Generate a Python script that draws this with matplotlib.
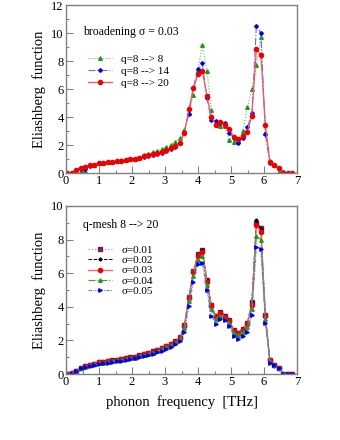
import numpy as np
import matplotlib
matplotlib.use("Agg")
import matplotlib.pyplot as plt
from matplotlib.ticker import MultipleLocator

plt.rcParams['font.family'] = ['Liberation Serif', 'DejaVu Serif']
plt.rcParams['mathtext.fontset'] = 'stix'

# frequency grid (THz), 51 points
freq = np.linspace(0.04, 6.86, 51)

# top panel: sigma = 0.03, different q-meshes
q8_8 = [0.0, 0.0, 0.0, 0.05, 0.12, 0.55, 0.6, 0.68, 0.72, 0.76,
        0.82, 0.86, 0.9, 0.95, 1.0, 1.0, 1.05, 1.32, 1.35, 1.5,
        1.6, 1.7, 1.85, 2.0, 2.2, 2.5, 3.1, 4.25, 5.6, 7.35,
        9.15, 7.3, 4.5, 3.5, 3.35, 3.35, 2.35, 2.2, 2.3, 3.0,
        4.68, 6.0, 7.68, 9.69, 2.85, 0.85, 0.6, 0.05, 0.0, 0.0, 0.0]
q8_14 = [0.0, 0.02, 0.22, 0.28, 0.3, 0.52, 0.6, 0.68, 0.72, 0.76,
         0.8, 0.84, 0.88, 0.93, 0.98, 1.02, 1.08, 1.15, 1.22, 1.28,
         1.36, 1.45, 1.58, 1.72, 1.88, 2.12, 2.95, 4.2, 6.1, 7.4,
         7.85, 5.35, 3.75, 3.72, 3.6, 3.58, 2.88, 2.48, 2.12, 2.5,
         3.25, 4.25, 10.5, 10.0, 2.75, 0.72, 0.55, 0.35, 0.05, 0.0, 0.0]
q8_20 = [0.0, 0.03, 0.2, 0.38, 0.45, 0.55, 0.6, 0.69, 0.71, 0.75,
         0.8, 0.85, 0.89, 0.94, 0.98, 1.02, 1.1, 1.18, 1.25, 1.33,
         1.42, 1.52, 1.64, 1.78, 1.93, 2.15, 2.85, 4.55, 6.05, 7.05,
         7.28, 5.5, 4.02, 3.42, 3.65, 3.42, 3.15, 2.58, 2.42, 2.62,
         2.95, 4.1, 8.85, 8.45, 3.45, 0.82, 0.55, 0.38, 0.02, 0.0, 0.0]

# bottom panel: q-mesh 8 --> 20, different sigma
s001 = [0.0, 0.03, 0.2, 0.38, 0.45, 0.56, 0.61, 0.7, 0.72, 0.76,
        0.81, 0.86, 0.9, 0.95, 0.99, 1.03, 1.11, 1.19, 1.26, 1.35,
        1.44, 1.54, 1.66, 1.8, 1.96, 2.2, 2.92, 4.6, 6.12, 7.12,
        7.36, 5.62, 4.1, 3.45, 3.72, 3.48, 3.22, 2.6, 2.45, 2.7,
        3.04, 4.3, 9.0, 8.72, 3.52, 0.83, 0.56, 0.38, 0.02, 0.0, 0.0]
s002 = [0.0, 0.03, 0.2, 0.38, 0.45, 0.56, 0.61, 0.7, 0.72, 0.76,
        0.81, 0.86, 0.9, 0.95, 0.99, 1.03, 1.11, 1.19, 1.26, 1.35,
        1.44, 1.54, 1.66, 1.8, 1.96, 2.18, 2.9, 4.6, 6.1, 7.1,
        7.38, 5.6, 4.08, 3.45, 3.72, 3.47, 3.2, 2.6, 2.45, 2.68,
        3.02, 4.28, 9.18, 8.65, 3.5, 0.83, 0.56, 0.38, 0.02, 0.0, 0.0]
s003 = q8_20
s004 = [0.0, 0.02, 0.17, 0.36, 0.43, 0.52, 0.57, 0.65, 0.68, 0.72,
        0.77, 0.81, 0.85, 0.9, 0.94, 0.98, 1.05, 1.13, 1.2, 1.27,
        1.36, 1.46, 1.58, 1.71, 1.86, 2.07, 2.72, 4.35, 5.85, 6.8,
        7.02, 5.3, 3.85, 3.25, 3.48, 3.3, 3.05, 2.45, 2.3, 2.5,
        2.8, 3.85, 8.22, 7.98, 3.25, 0.78, 0.53, 0.38, 0.02, 0.0, 0.0]
s005 = [0.0, 0.02, 0.15, 0.33, 0.4, 0.47, 0.52, 0.6, 0.63, 0.67,
        0.72, 0.76, 0.8, 0.85, 0.89, 0.93, 1.0, 1.07, 1.13, 1.2,
        1.29, 1.38, 1.5, 1.63, 1.78, 1.97, 2.52, 4.02, 5.5, 6.55,
        6.62, 4.98, 3.48, 2.98, 3.28, 3.22, 2.88, 2.28, 2.08, 2.28,
        2.48, 3.54, 7.58, 7.42, 3.02, 0.68, 0.54, 0.38, 0.02, 0.0, 0.0]

fig = plt.figure(figsize=(3.4, 4.4), dpi=100)
ax1 = fig.add_axes([66/340, 1-173/440, 231/340, 168/440])
ax2 = fig.add_axes([66/340, 1-374/440, 231/340, 168/440])

gray = '#808080'

def style(ax, ymax):
    ax.set_xlim(0, 7)
    ax.set_ylim(0, ymax)
    ax.xaxis.set_major_locator(MultipleLocator(1))
    ax.xaxis.set_minor_locator(MultipleLocator(0.5))
    ax.yaxis.set_major_locator(MultipleLocator(2))
    ax.yaxis.set_minor_locator(MultipleLocator(1))
    ax.tick_params(which='both', direction='in', color=gray, labelsize=9, pad=1.5)
    ax.tick_params(which='major', length=5, width=0.8)
    ax.tick_params(which='minor', length=2.5, width=0.8)
    for s in ax.spines.values():
        s.set_color(gray)
        s.set_linewidth(1.0)
    ax.set_ylabel('Eliashberg  function', fontsize=10.5, labelpad=4)

# top
ax1.plot(freq, q8_8, ls=':', color='#66bb66', lw=0.8, marker='^', ms=2.6,
         mfc='#1a9a1a', mec='#1a9a1a', label='q=8 --> 8')
ax1.plot(freq, q8_14, ls='-.', color='#6666ff', lw=0.8, marker='D', ms=1.9,
         mfc='#0000ee', mec='#0000ee', label='q=8 --> 14')
ax1.plot(freq, q8_20, ls='-', color='#ff5555', lw=0.9, marker='o', ms=3.0,
         mfc='#ee0000', mec='#ee0000', label='q=8 --> 20')
style(ax1, 12)
ax1.text(0.075, 0.84, 'broadening σ = 0.03', transform=ax1.transAxes,
         fontsize=8.5, va='center')
ax1.legend(loc='upper left', bbox_to_anchor=(0.095, 0.705), frameon=False,
           fontsize=8, handlelength=2.2, handletextpad=0.8, labelspacing=0.2,
           borderaxespad=0, borderpad=0)

# bottom
ax2.plot(freq, s001, ls=':', color='#dd88bb', lw=0.9, marker='s', ms=2.3,
         mfc='#7a1a5a', mec='#7a1a5a', label='σ=0.01')
ax2.plot(freq, s002, ls='--', color='black', lw=0.7, marker='D', ms=1.6,
         mfc='black', mec='black', label='σ=0.02')
ax2.plot(freq, s003, ls='-', color='#ff6666', lw=1.0, marker='o', ms=3.0,
         mfc='#ee0000', mec='#ee0000', label='σ=0.03')
ax2.plot(freq, s004, ls='-.', color='#33aa33', lw=0.8, marker='^', ms=2.5,
         mfc='#1a9a1a', mec='#1a9a1a', label='σ=0.04')
ax2.plot(freq, s005, ls=(0, (3, 1, 1, 1, 1, 1)), color='#6677ff', lw=0.8,
         marker='>', ms=2.5, mfc='#0000ee', mec='#0000ee', label='σ=0.05')
style(ax2, 10)
ax2.text(0.075, 0.887, 'q-mesh 8 --> 20', transform=ax2.transAxes,
         fontsize=8.5, va='center')
ax2.legend(loc='upper left', bbox_to_anchor=(0.095, 0.765), frameon=False,
           fontsize=8, handlelength=2.2, handletextpad=0.8, labelspacing=0.03,
           borderaxespad=0, borderpad=0)
ax2.set_xlabel('phonon  frequency  [THz]', fontsize=10.5, labelpad=5)

fig.savefig('out.png', dpi=100)
